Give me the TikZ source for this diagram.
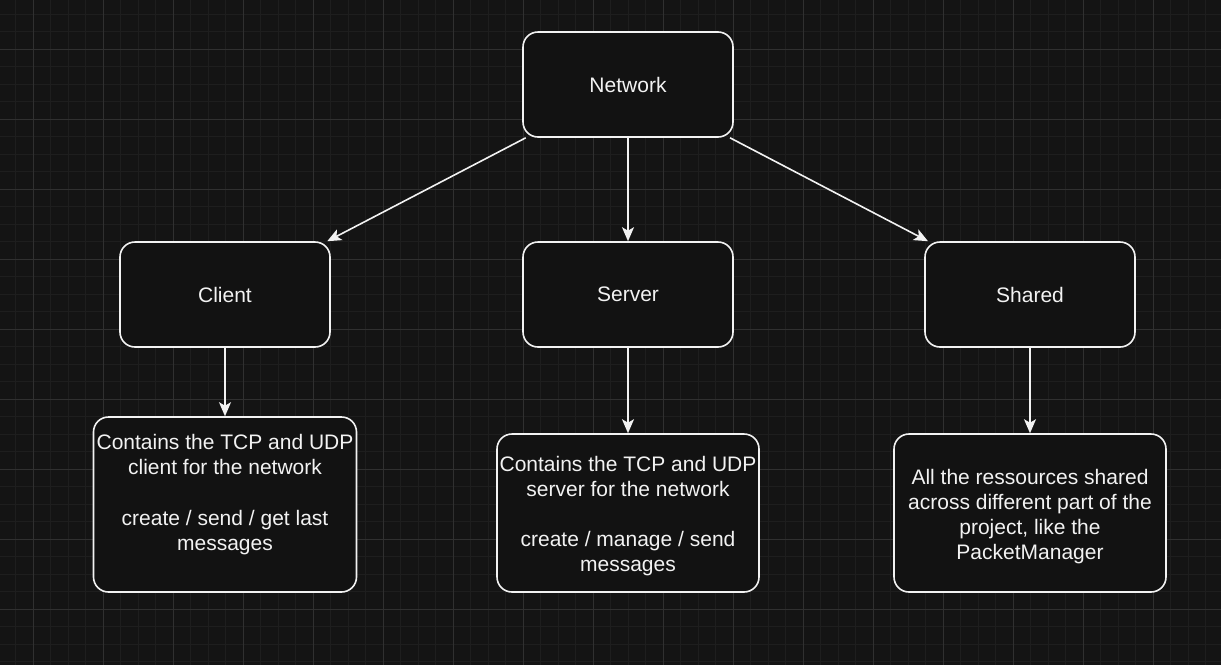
\documentclass[tikz,border=0pt]{standalone}
\usepackage{fontspec}
\setmainfont{Liberation Sans}
\usetikzlibrary{arrows.meta}
\definecolor{bgcol}{HTML}{141414}
\definecolor{minorgrid}{HTML}{1E1E1E}
\definecolor{majorgrid}{HTML}{303030}
\definecolor{boxfill}{HTML}{121212}
\definecolor{fg}{HTML}{F2F2F2}
\begin{document}
\begin{tikzpicture}[x=1pt,y=-1pt,
  box/.style={draw=fg, line width=1.6pt, rounded corners=15pt, fill=boxfill, text=fg,
    font=\fontsize{21}{25.2}\selectfont, align=center, inner sep=0pt},
  txt/.style={text=fg, font=\fontsize{21}{25.2}\selectfont, align=center, inner sep=0pt},
  conn/.style={draw=fg, line width=1.6pt, -{Stealth[length=14pt,width=12pt,inset=3.5pt]}},
  minorline/.style={draw=minorgrid, line width=0.8pt},
  majorline/.style={draw=majorgrid, line width=1pt}]
\useasboundingbox (0,0) rectangle (1221,665);
\fill[bgcol] (0,0) rectangle (1221,665);
% grid
\foreach \i in {-1,...,68} {
  \pgfmathsetmacro{\gx}{33.3+17.5*\i}
  \draw[minorline] (\gx,0) -- (\gx,665);
}
\foreach \i in {-2,...,36} {
  \pgfmathsetmacro{\gy}{49.3+17.5*\i}
  \draw[minorline] (0,\gy) -- (1221,\gy);
}
\foreach \i in {0,...,17} {
  \pgfmathsetmacro{\gx}{33.3+70*\i}
  \draw[majorline] (\gx,0) -- (\gx,665);
}
\foreach \i in {0,...,9} {
  \pgfmathsetmacro{\gy}{49.3+70*\i}
  \draw[majorline] (0,\gy) -- (1221,\gy);
}
% top-level boxes
\node[box, minimum width=210pt, minimum height=105pt] (network) at (628,84.5) {Network};
\node[box, minimum width=210pt, minimum height=105pt] (client) at (225,294.5) {Client};
\node[box, minimum width=210pt, minimum height=105pt] (server) at (628,294.5) {Server};
\node[box, minimum width=210pt, minimum height=105pt] (shared) at (1030,294.5) {Shared};
% description boxes
\node[box, minimum width=263pt, minimum height=175pt] (clientdesc) at (225,504.5) {};
\node[txt] (clienttext) at (225,494.5) {Contains the TCP and UDP\\client for the network\\[25.2pt]create / send / get last\\messages};
\node[box, minimum width=262pt, minimum height=158pt] (serverdesc) at (628,513) {};
\node[txt] (servertext) at (628,516) {Contains the TCP and UDP\\server for the network\\[25.2pt]create / manage / send\\messages};
\node[box, minimum width=272pt, minimum height=158pt] (shareddesc) at (1030,513) {};
\node[txt] (sharedtext) at (1030,516.5) {All the ressources shared\\across different part of the\\project, like the\\PacketManager};
% connectors
\draw[conn] (network) -- (client);
\draw[conn] (network) -- (server);
\draw[conn] (network) -- (shared);
\draw[conn] (client.south) -- (clientdesc.north);
\draw[conn] (server.south) -- (serverdesc.north);
\draw[conn] (shared.south) -- (shareddesc.north);
\end{tikzpicture}
\end{document}
